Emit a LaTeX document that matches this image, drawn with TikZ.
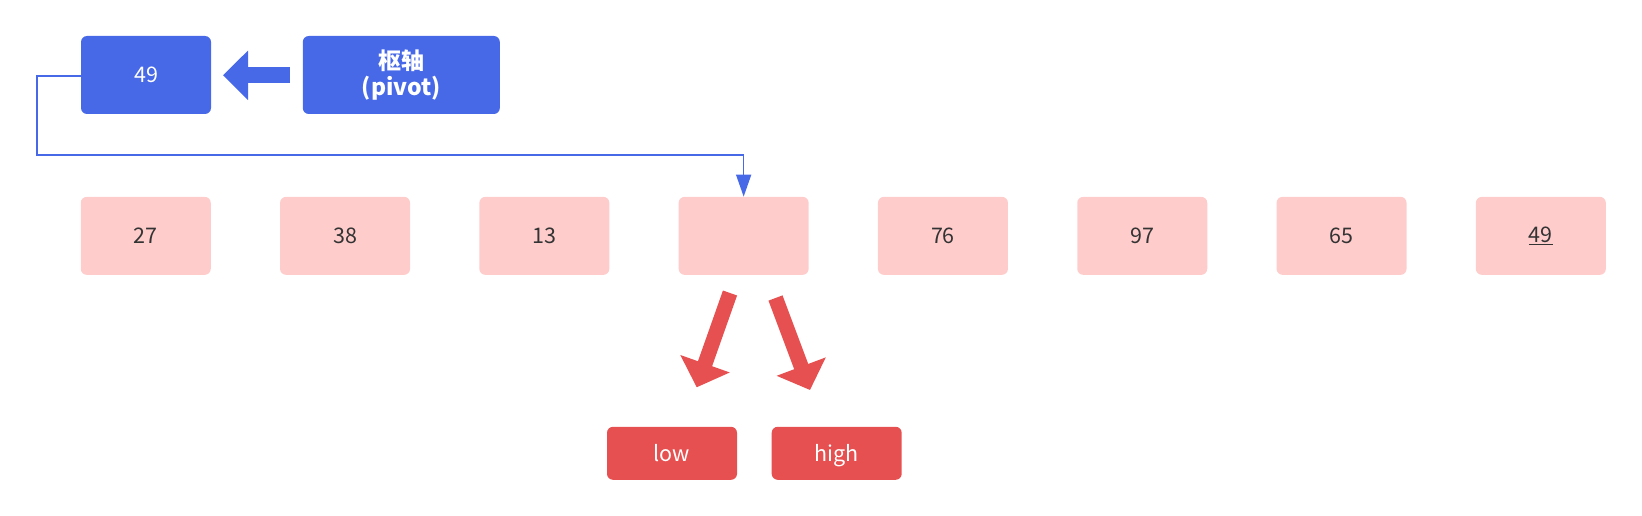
\documentclass[tikz,border=0pt]{standalone}
\usepackage{fontspec}
\setmainfont{Noto Sans CJK SC}
\usetikzlibrary{arrows.meta}
\definecolor{pblue}{HTML}{4769E8}
\definecolor{ppink}{HTML}{FFCCCC}
\definecolor{pred}{HTML}{E65050}
\definecolor{ptext}{HTML}{333333}
\tikzset{
  box/.style={rounded corners=6pt, inner sep=0pt, minimum height=78pt, minimum width=130pt, font=\fontsize{21.5}{25}\selectfont, align=center},
  bluebox/.style={box, fill=pblue, text=white},
  pinkbox/.style={box, fill=ppink, text=ptext},
  redbox/.style={box, fill=pred, text=white, minimum height=53pt},
  conn/.style={draw=pblue, line width=1.6pt, -{Triangle[width=15pt,length=22pt]}},
  fatblue/.style={draw=pblue, line width=16pt, -{Triangle[width=48pt,length=25pt]}},
  fatred/.style={draw=pred, line width=15pt, -{Triangle[width=51pt,length=25pt]}}
}
\begin{document}
\begin{tikzpicture}[x=1pt,y=-1pt]
\useasboundingbox (0,0) rectangle (1642,516);
\node[bluebox] (p49) at (146,75) {49};
\node[bluebox, minimum width=197pt, font=\bfseries\fontsize{23}{26}\selectfont] (pivot) at (401.3,75) {枢轴\\(pivot)};
\foreach \v [count=\i] in {27,38,13,,76,97,65,\underline{49}} {
  \node[pinkbox] (a\i) at ({145.75+199.3*(\i-1)},235.85) {\v};
}
\node[redbox] (low) at (672,453.3) {\raisebox{-3pt}[\height][\depth]{\strut low}};
\node[redbox] (high) at (836.7,453.3) {\raisebox{-3pt}[\height][\depth]{\strut high}};
% pivot arrow
\coordinate (bt) at (290,75.3);
\coordinate (bh) at (223,75.3);
\draw[fatblue] (bt) -- (bh);
% connector
\draw[conn] (p49.west |- 0,76) -- (36.7,76) -- (36.7,155) -- (a4.north |- 0,155) -- (a4.north);
% red arrows
\coordinate (l1) at (730,293);
\coordinate (l2) at (696.7,387.3);
\coordinate (r1) at (775.5,298);
\coordinate (r2) at (810,390);
\draw[fatred] (l1) -- (l2);
\draw[fatred] (r1) -- (r2);
\end{tikzpicture}
\end{document}
